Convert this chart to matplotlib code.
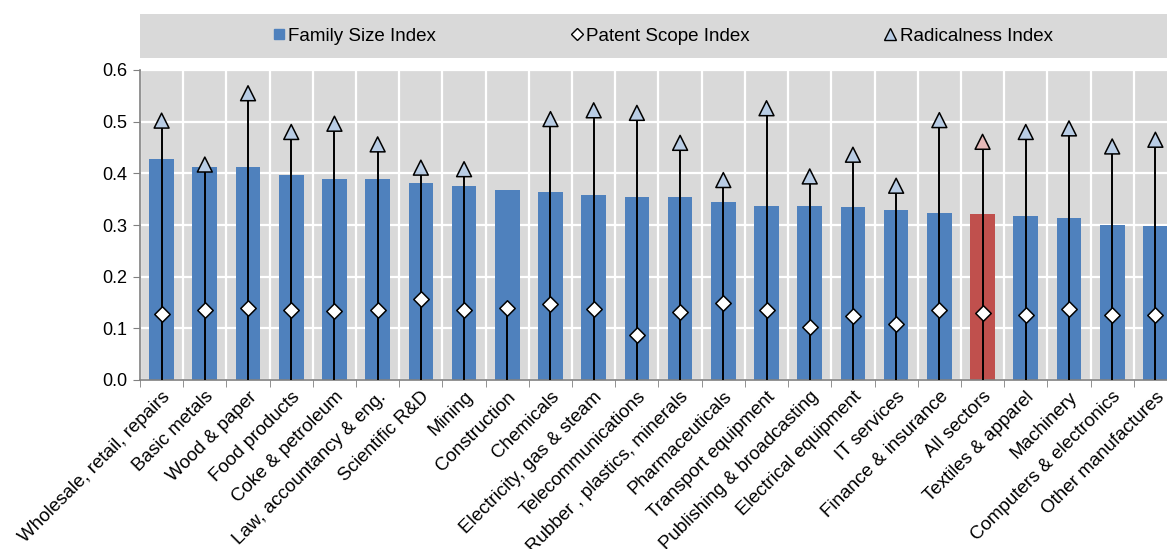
import numpy as np
import matplotlib
matplotlib.use("Agg")
import matplotlib.pyplot as plt
from matplotlib.lines import Line2D
from matplotlib.patches import Rectangle

plt.rcParams["font.family"] = ["Liberation Sans", "DejaVu Sans"]

sectors = [
    "Wholesale, retail, repairs", "Basic metals", "Wood & paper", "Food products",
    "Coke & petroleum", "Law, accountancy & eng.", "Scientific R&D", "Mining",
    "Construction", "Chemicals", "Electricity, gas & steam", "Telecommunications",
    "Rubber , plastics, minerals", "Pharmaceuticals", "Transport equipment",
    "Publishing & broadcasting", "Electrical equipment", "IT services",
    "Finance & insurance", "All sectors", "Textiles & apparel", "Machinery",
    "Computers & electronics", "Other manufactures",
]
family_size = [0.427, 0.412, 0.412, 0.396, 0.390, 0.389, 0.381, 0.375,
               0.368, 0.363, 0.358, 0.354, 0.354, 0.344, 0.337,
               0.337, 0.334, 0.329, 0.324, 0.321, 0.318, 0.313,
               0.300, 0.299]
patent_scope = [0.128, 0.136, 0.140, 0.135, 0.134, 0.135, 0.157, 0.135,
                0.140, 0.147, 0.137, 0.088, 0.132, 0.150, 0.135,
                0.102, 0.124, 0.108, 0.135, 0.130, 0.125, 0.138,
                0.126, 0.126]
radicalness = [0.502, 0.417, 0.555, 0.480, 0.496, 0.456, 0.411, 0.408,
               np.nan, 0.505, 0.522, 0.517, 0.459, 0.387, 0.526,
               0.394, 0.436, 0.376, 0.503, 0.461, 0.480, 0.487,
               0.452, 0.465]
highlight = "All sectors"

blue, red = "#4F81BD", "#C0504D"
tri_blue, tri_red = "#B9CDE5", "#E6B9B8"
bg = "#D9D9D9"

x = np.arange(len(sectors))
bar_colors = [red if s == highlight else blue for s in sectors]
tri_colors = [tri_red if s == highlight else tri_blue for s in sectors]
top = np.fmax(np.array(radicalness, dtype=float), np.array(patent_scope))

fig = plt.figure(figsize=(11.67, 5.49), dpi=100)
ax = fig.add_axes([140 / 1167, 1 - 380 / 549, 1037 / 1167, 310 / 549])
ax.set_facecolor(bg)

ax.bar(x, family_size, width=0.57, color=bar_colors, zorder=2)
ax.vlines(x, 0, top, color="black", linewidth=1.4, zorder=3)
ax.scatter(x, patent_scope, marker="D", s=62, facecolor="white",
           edgecolor="black", linewidth=1.1, zorder=4)
ax.scatter(x, radicalness, marker="^", s=115, c=tri_colors,
           edgecolor="black", linewidth=1.1, zorder=4)

ax.set_xlim(-0.5, len(sectors) - 0.5)
ax.set_ylim(0, 0.6)
ax.set_yticks(np.arange(0, 0.61, 0.1))
ax.set_yticklabels([f"{v:.1f}" for v in np.arange(0, 0.61, 0.1)], fontsize=13)
ax.set_xticks(x)
ax.set_xticklabels(sectors, rotation=45, ha="right", rotation_mode="anchor",
                   fontsize=13.5)
ax.set_xticks(np.arange(-0.5, len(sectors), 1), minor=True)
ax.tick_params(axis="x", which="major", length=0, pad=6)
ax.tick_params(axis="x", which="minor", length=5, color="#808080")
ax.tick_params(axis="y", length=5, color="#808080", pad=4)
ax.grid(True, axis="y", color="white", linewidth=1.6, zorder=1)
ax.grid(True, axis="x", which="minor", color="white", linewidth=1.6, zorder=1)
ax.set_axisbelow(True)
for side in ["top", "right"]:
    ax.spines[side].set_visible(False)
for side in ["left", "bottom"]:
    ax.spines[side].set_color("#808080")
    ax.spines[side].set_linewidth(1.2)

# legend strip
fig.patches.append(Rectangle((140 / 1167, 1 - 58 / 549), 1037 / 1167, 44 / 549,
                             transform=fig.transFigure, facecolor=bg,
                             edgecolor="none", zorder=0))
handles = [
    Line2D([], [], linestyle="none", marker="s", markersize=7.5,
           markerfacecolor=blue, markeredgecolor=blue),
    Line2D([], [], linestyle="none", marker="D", markersize=6,
           markerfacecolor="white", markeredgecolor="black", markeredgewidth=1),
    Line2D([], [], linestyle="none", marker="^", markersize=8,
           markerfacecolor=tri_blue, markeredgecolor="black", markeredgewidth=1),
]
fig.legend(handles, ["Family Size Index", "Patent Scope Index", "Radicalness Index"],
           loc="center", bbox_to_anchor=(663 / 1167, 1 - 36 / 549), ncol=3,
           frameon=False, fontsize=13.5, handlelength=0.6, handletextpad=0.2,
           columnspacing=7.2)

fig.savefig("out.png", dpi=100)
